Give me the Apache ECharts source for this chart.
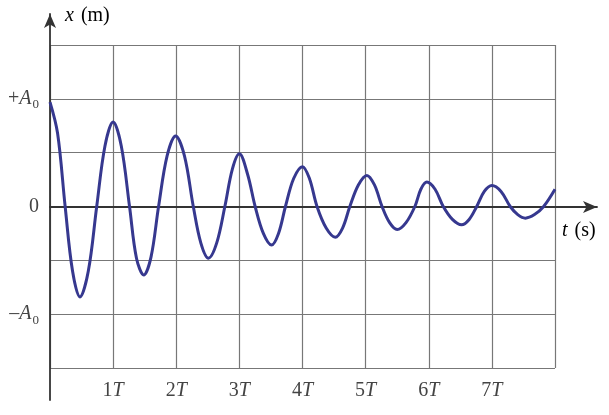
<!DOCTYPE html>
<html>
<head>
<meta charset="utf-8">
<script src="https://cdn.jsdelivr.net/npm/echarts@6/dist/echarts.min.js"></script>
<style>
  html, body { margin: 0; padding: 0; background: #fff; }
  #chart { width: 609px; height: 415px; }
</style>
</head>
<body>
<div id="chart"></div>
<script>
// время в периодах T (экстремумы, нули и промежуточные точки)
const times = [
    0, 0.12, 0.24, 0.357, 0.475, 0.607, 0.74, 0.87,
    1.0, 1.13, 1.26, 1.37, 1.485, 1.6, 1.72, 1.855,
    1.99, 2.13, 2.27, 2.39, 2.51, 2.64, 2.77, 2.89,
    3.0, 3.13, 3.25, 3.38, 3.51, 3.62, 3.73, 3.86,
    4.0, 4.11, 4.23, 4.375, 4.52, 4.635, 4.75, 4.885,
    5.02, 5.14, 5.26, 5.38, 5.5, 5.64, 5.78, 5.875,
    5.97, 6.1, 6.23, 6.375, 6.52, 6.64, 6.76, 6.88,
    7.0, 7.145, 7.29, 7.41, 7.53, 7.675, 7.82, 8.0
];
// смещение в единицах A0
const displacement = [
    0.97, 0.68, 0, -0.6, -0.84, -0.6, 0, 0.56,
    0.785, 0.56, 0, -0.48, -0.636, -0.47, 0, 0.47,
    0.655, 0.47, 0, -0.34, -0.48, -0.34, 0, 0.35,
    0.49, 0.3, 0, -0.25, -0.358, -0.25, 0, 0.26,
    0.37, 0.26, 0, -0.2, -0.285, -0.2, 0, 0.2,
    0.289, 0.2, 0, -0.15, -0.214, -0.15, 0, 0.16,
    0.227, 0.16, 0, -0.12, -0.17, -0.12, 0, 0.14,
    0.195, 0.14, 0, -0.075, -0.108, -0.075, 0, 0.16
];
const timeTicks = ['', '1T', '2T', '3T', '4T', '5T', '6T', '7T', ''];
const ampTicks = { '1': '+A0', '0': '0', '-1': '–A0' };

const dom = document.getElementById('chart');
const myChart = echarts.init(dom, null, { renderer: 'canvas' });

const serif = '"Liberation Serif", "DejaVu Serif", serif';
const textColor = '#444';
const gridColor = '#777';

function ampLabel(value) {
    const s = ampTicks[String(value)];
    if (s === undefined) return '';
    if (s === '0') return '{n|0}';
    return '{n|' + s.charAt(0) + '}{i|A}{s|0}';
}

function timeLabel(value) {
    const s = timeTicks[Math.round(value)];
    if (!s) return '';
    return '{n|' + s.slice(0, -1) + '}{i|T}';
}

const labelRich = {
    n: { fontFamily: serif, fontSize: 20, color: textColor },
    i: { fontFamily: serif, fontSize: 20, fontStyle: 'italic', color: textColor },
    s: { fontFamily: serif, fontSize: 13, color: textColor, padding: [12, 0, 0, 1] },
    g: { width: 7 }
};

const option = {
    animation: false,
    grid: [
        // сетка с данными
        { left: 50, right: 54, top: 45, bottom: 47 },
        // оси со стрелками
        { left: 50, right: 12, top: 14, bottom: 15 }
    ],
    xAxis: [
        {
            gridIndex: 0,
            type: 'value',
            min: 0,
            max: 8,
            interval: 1,
            axisLine: { show: false },
            axisTick: { show: false },
            splitLine: { show: true, lineStyle: { color: gridColor, width: 1.2 } },
            axisLabel: {
                formatter: timeLabel,
                margin: 13,
                rich: labelRich
            }
        },
        {
            gridIndex: 1,
            type: 'value',
            min: 0,
            max: 1,
            axisLine: {
                show: true,
                onZero: true,
                symbol: ['none', 'arrow'],
                symbolSize: [9, 14],
                lineStyle: { color: '#333', width: 1.8 }
            },
            axisTick: { show: false },
            axisLabel: { show: false },
            splitLine: { show: false }
        }
    ],
    yAxis: [
        {
            gridIndex: 0,
            type: 'value',
            min: -1.5,
            max: 1.5,
            interval: 0.5,
            axisLine: { show: false },
            axisTick: { show: false },
            splitLine: { show: true, lineStyle: { color: gridColor, width: 1.2 } },
            axisLabel: {
                formatter: ampLabel,
                margin: 11,
                rich: labelRich
            }
        },
        {
            gridIndex: 1,
            type: 'value',
            min: -1,
            max: 1,
            axisLine: {
                show: true,
                onZero: false,
                symbol: ['none', 'arrow'],
                symbolSize: [9, 14],
                lineStyle: { color: '#333', width: 1.8 }
            },
            axisTick: { show: false },
            axisLabel: { show: false },
            splitLine: { show: false }
        }
    ],
    graphic: [
        {
            type: 'text',
            left: 65,
            top: 6,
            style: {
                text: '{i|x}{g|}{n|(m)}',
                rich: labelRich
            }
        },
        {
            type: 'text',
            left: 562,
            top: 221,
            style: {
                text: '{i|t}{g|}{n|(s)}',
                rich: labelRich
            }
        }
    ],
    series: [
        {
            type: 'line',
            xAxisIndex: 0,
            yAxisIndex: 0,
            data: times.map((t, i) => [t, displacement[i]]),
            smooth: 0.35,
            showSymbol: false,
            lineStyle: { color: '#36388f', width: 3 },
            z: 5
        }
    ]
};

myChart.setOption(option);
</script>
</body>
</html>
